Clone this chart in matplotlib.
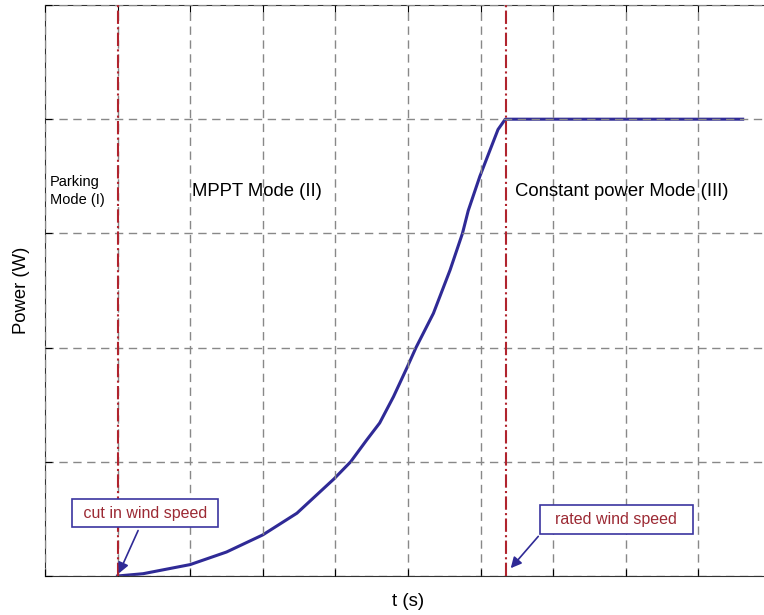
import numpy as np
import matplotlib.pyplot as plt

plt.rcParams['font.family'] = ['Liberation Sans', 'DejaVu Sans']

# power curve (t in grid units, p in grid units)
t = [1.00, 1.35, 2.00, 2.50, 3.00, 3.47, 3.98, 4.21, 4.43, 4.61, 4.80,
     4.99, 5.11, 5.35, 5.58, 5.75, 5.83, 5.99, 6.13, 6.24, 6.34, 9.61]
p = [0.00, 0.02, 0.10, 0.21, 0.36, 0.55, 0.85, 1.00, 1.19, 1.34, 1.57,
     1.83, 2.00, 2.30, 2.68, 3.00, 3.20, 3.50, 3.73, 3.91, 4.00, 4.00]

t_cut_in = 1.0
t_rated = 6.35

curve_col = '#2f2a96'
red = '#b0242e'
txt_red = '#9c2a34'

fig = plt.figure(figsize=(7.64, 6.15), dpi=100)
ax = fig.add_axes([45/764, 39/615, 726/764, 571/615])

ax.plot(t, p, color=curve_col, lw=2.2, zorder=2, solid_joinstyle='round')
ax.axvline(t_cut_in, color=red, ls='-.', lw=1.5, zorder=3)
ax.axvline(t_rated, color=red, ls='-.', lw=1.5, zorder=3)

ax.set_xlim(0, 10)
ax.set_ylim(0, 5)
ax.set_xticks(np.arange(0, 11))
ax.set_yticks(np.arange(0, 6))
ax.set_axisbelow(False)
ax.grid(True, color='#888888', ls=(0, (6, 4)), lw=1)
ax.tick_params(direction='in', length=5, labelbottom=False, labelleft=False,
               top=True, right=True)
for s in ax.spines.values():
    s.set_color('#333333')

ax.set_xlabel('t (s)', fontsize=13.5, labelpad=12)
ax.set_ylabel('Power (W)', fontsize=13.3, labelpad=11)

ax.text(0.07, 3.37, 'Parking\nMode (I)', fontsize=10.5, ha='left', va='center', linespacing=1.35)
ax.text(2.02, 3.37, 'MPPT Mode (II)', fontsize=13.3, ha='left', va='center')
ax.text(6.48, 3.37, 'Constant power Mode (III)', fontsize=13.3, ha='left', va='center')

box = dict(boxstyle='square,pad=0.42', fc='white', ec='#3b35a0', lw=1.2)
arr = dict(arrowstyle='-|>', color=curve_col, lw=1.2, mutation_scale=16)
ax.annotate(' cut in wind speed ', xy=(t_cut_in, 0.0), xytext=(1.38, 0.55),
            fontsize=11.5, color=txt_red, ha='center', va='center', bbox=box,
            arrowprops=dict(arr, relpos=(0.48, 0.0)))
ax.annotate('  rated wind speed  ', xy=(6.39, 0.05), xytext=(7.87, 0.495),
            fontsize=11.5, color=txt_red, ha='center', va='center', bbox=box,
            arrowprops=dict(arr, relpos=(0.0, 0.0)))

fig.savefig('out.png', dpi=100)
